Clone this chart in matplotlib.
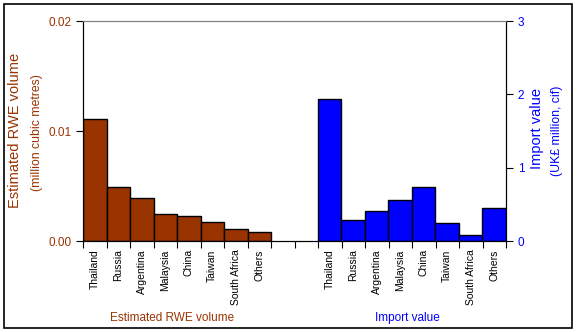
import numpy as np
import matplotlib.pyplot as plt
from matplotlib.patches import Rectangle

plt.rcParams['font.family'] = ['Liberation Sans', 'DejaVu Sans']

countries = ['Thailand', 'Russia', 'Argentina', 'Malaysia', 'China', 'Taiwan', 'South Africa', 'Others']
rwe_volume = [0.0111, 0.0049, 0.0039, 0.00243, 0.00225, 0.0017, 0.00106, 0.00079]
import_value = [1.93, 0.28, 0.405, 0.555, 0.73, 0.24, 0.078, 0.445]

brown = '#993300'
blue = '#0000ff'

W, H = 577, 332
fig = plt.figure(figsize=(W / 100, H / 100), dpi=100)
fig.patches.append(Rectangle((4 / W, 4 / H), 568 / W, 324 / H, transform=fig.transFigure,
                             fill=False, edgecolor='black', lw=1.2))

ax = fig.add_axes([83 / W, 1 - 241 / H, 423 / W, 220 / H])
ax2 = ax.twinx()

n = len(countries)
x_left = np.arange(n)
x_right = np.arange(n) + n + 2

ax.bar(x_left, rwe_volume, width=1, align='edge', color=brown, edgecolor='black', lw=1)
ax2.bar(x_right, import_value, width=1, align='edge', color=blue, edgecolor='black', lw=1)

ax.set_xlim(0, 2 * n + 2)
ax.set_ylim(0, 0.02)
ax2.set_ylim(0, 3)

ax.set_yticks([0, 0.01, 0.02])
ax.set_yticklabels(['0.00', '0.01', '0.02'])
ax2.set_yticks([0, 1, 2, 3])
ax.tick_params(axis='y', colors='black', labelcolor=brown, labelsize=8.5, length=5, direction='out')
ax2.tick_params(axis='y', colors='black', labelcolor=blue, labelsize=8.5, length=5, direction='out')

# slot boundaries get tick marks, slot centres get the country names
ax.set_xticks(np.arange(2 * n + 3))
ax.set_xticklabels([])
ax.tick_params(axis='x', which='major', length=5, direction='out')
centers = list(x_left + 0.5) + list(x_right + 0.5)
ax.set_xticks(centers, minor=True)
ax.set_xticklabels(countries + countries, minor=True, rotation=90, fontsize=7.5, va='top')
ax.tick_params(axis='x', which='minor', length=0, pad=6)

for a in (ax, ax2):
    a.spines['top'].set_color('#808080')
    a.spines['left'].set_color('black')
    a.spines['right'].set_color('black')
    a.spines['bottom'].set_color('black')

fig.text(15 / W, 1 - 130 / H, 'Estimated RWE volume', rotation=90, ha='center', va='center',
         color=brown, fontsize=10.5)
fig.text(37 / W, 1 - 133 / H, '(million cubic metres)', rotation=90, ha='center', va='center',
         color=brown, fontsize=8.8)
fig.text(537 / W, 1 - 129 / H, 'Import value', rotation=90, ha='center', va='center',
         color=blue, fontsize=10.5)
fig.text(557 / W, 1 - 131 / H, '(UK£ million, cif)', rotation=90, ha='center', va='center',
         color=blue, fontsize=8.8)

fig.text(172 / W, 1 - 318 / H, 'Estimated RWE volume', ha='center', va='center', color=brown, fontsize=8.5)
fig.text(407 / W, 1 - 318 / H, 'Import value', ha='center', va='center', color=blue, fontsize=8.5)

fig.savefig('out.png', dpi=100)
